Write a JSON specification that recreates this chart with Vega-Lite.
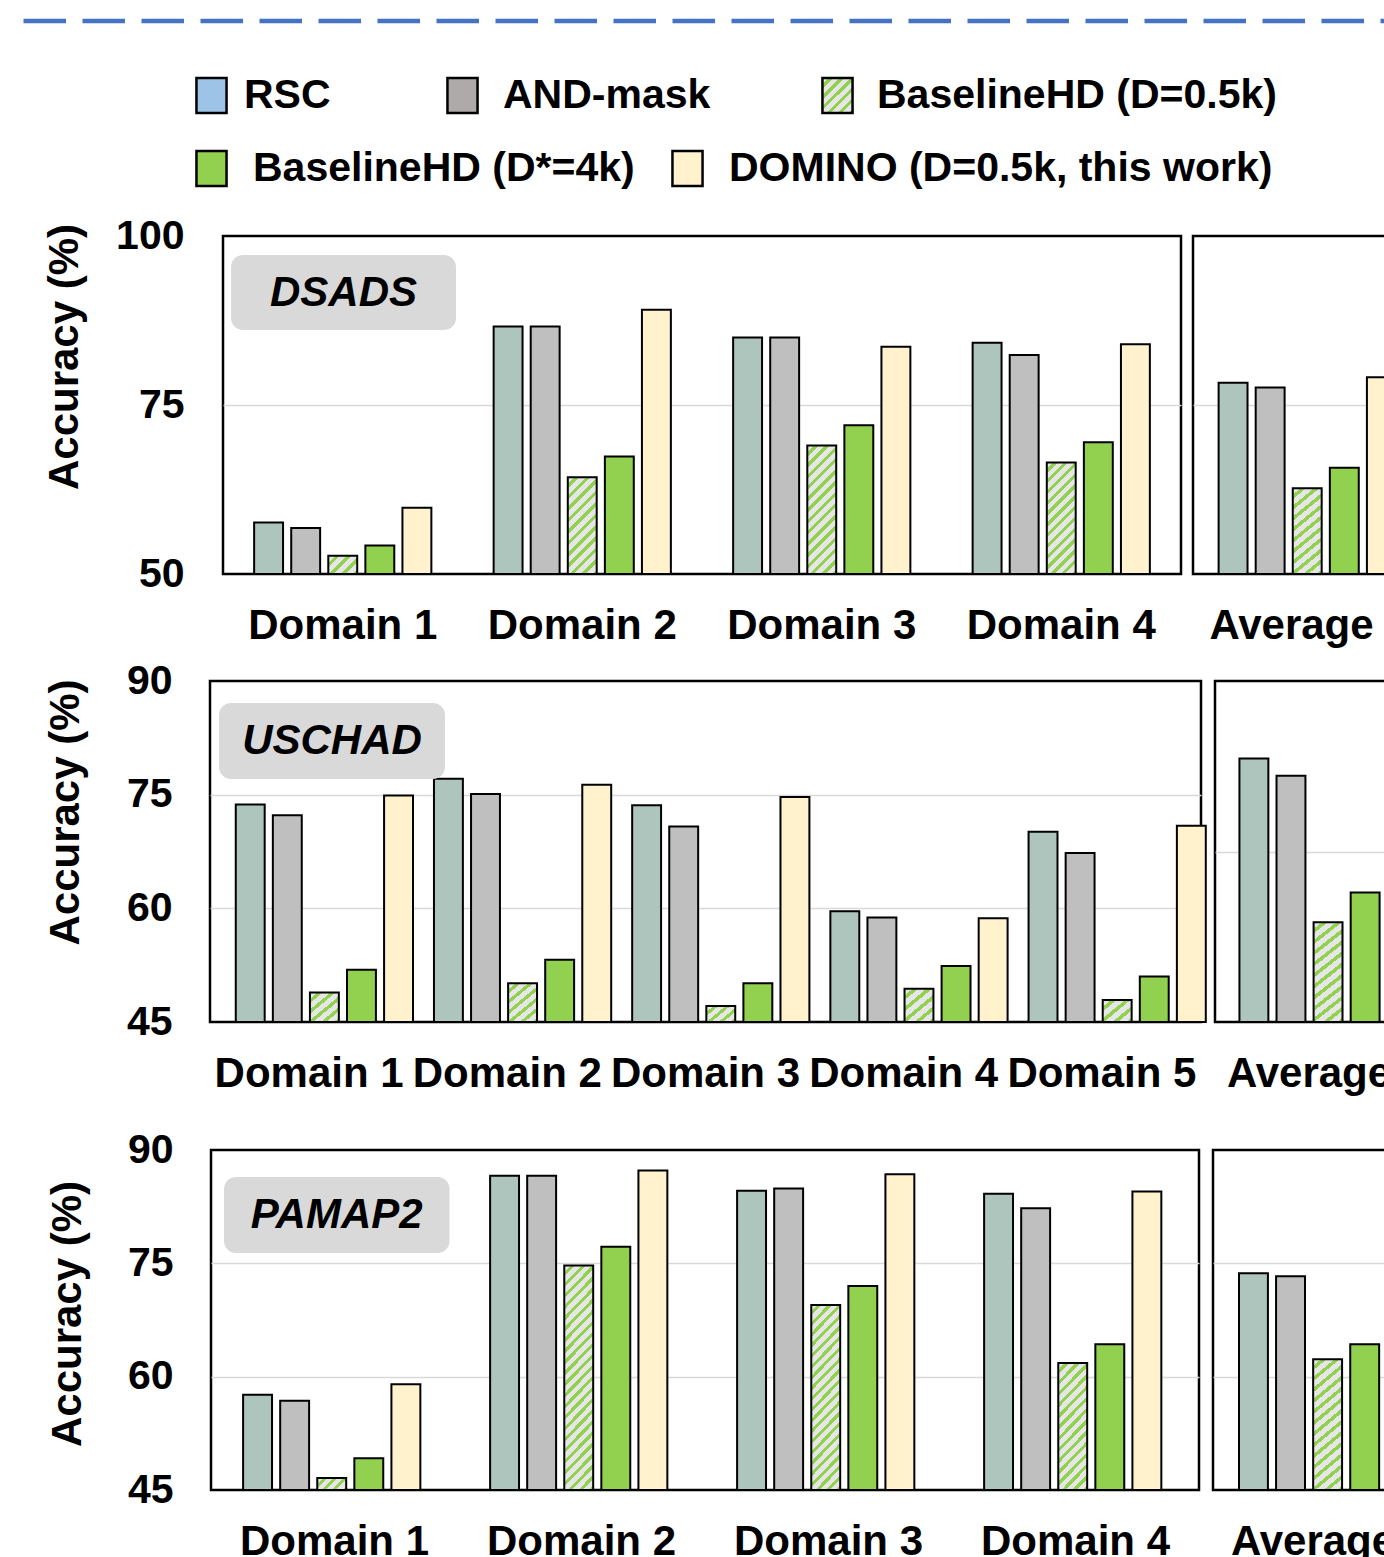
{
"$schema": "https://vega.github.io/schema/vega-lite/v6.json",
"padding": {"left": 20, "top": 18, "right": 0, "bottom": 0},
"config": {
 "font": "Liberation Sans",
 "view": {"stroke": "#000", "strokeWidth": 2.5},
 "axis": {"labelFontSize": 41, "labelFontWeight": "bold", "labelColor": "#000", "ticks": false, "domain": false, "titleFontSize": 42, "titleFontWeight": "bold", "titleColor": "#000", "gridColor": "#D9D9D9", "gridWidth": 1.5, "labelLimit": 400, "labelOverlap": false},
 "axisX": {"labelFontSize": 42, "labelPadding": 31, "labelAngle": 0, "title": null},
 "legend": {"orient": "none", "title": null, "direction": "horizontal", "symbolType": "M-0.86,-1H0.86V1H-0.86Z", "symbolSize": 1225, "symbolStrokeColor": "#000", "symbolStrokeWidth": 2.5, "symbolOpacity": 1, "labelFontSize": 41, "labelFontWeight": "bold", "labelColor": "#000", "labelLimit": 1000, "padding": 0}
},
"params": [
 {"name": "s4", "value": [{"offset":0,"color":"#e6e6e6"},{"offset":0.15,"color":"#e6e6e6"},{"offset":0.15,"color":"#92d050"},{"offset":0.25,"color":"#92d050"},{"offset":0.25,"color":"#e6e6e6"},{"offset":0.4,"color":"#e6e6e6"},{"offset":0.4,"color":"#92d050"},{"offset":0.5,"color":"#92d050"},{"offset":0.5,"color":"#e6e6e6"},{"offset":0.65,"color":"#e6e6e6"},{"offset":0.65,"color":"#92d050"},{"offset":0.75,"color":"#92d050"},{"offset":0.75,"color":"#e6e6e6"},{"offset":0.9,"color":"#e6e6e6"},{"offset":0.9,"color":"#92d050"},{"offset":1,"color":"#92d050"}]},
 {"name": "s5", "value": [{"offset":0,"color":"#e6e6e6"},{"offset":0.12,"color":"#e6e6e6"},{"offset":0.12,"color":"#92d050"},{"offset":0.2,"color":"#92d050"},{"offset":0.2,"color":"#e6e6e6"},{"offset":0.32,"color":"#e6e6e6"},{"offset":0.32,"color":"#92d050"},{"offset":0.4,"color":"#92d050"},{"offset":0.4,"color":"#e6e6e6"},{"offset":0.52,"color":"#e6e6e6"},{"offset":0.52,"color":"#92d050"},{"offset":0.6,"color":"#92d050"},{"offset":0.6,"color":"#e6e6e6"},{"offset":0.72,"color":"#e6e6e6"},{"offset":0.72,"color":"#92d050"},{"offset":0.8,"color":"#92d050"},{"offset":0.8,"color":"#e6e6e6"},{"offset":0.92,"color":"#e6e6e6"},{"offset":0.92,"color":"#92d050"},{"offset":1,"color":"#92d050"}]},
 {"name": "s6", "value": [{"offset":0,"color":"#e6e6e6"},{"offset":0.1,"color":"#e6e6e6"},{"offset":0.1,"color":"#92d050"},{"offset":0.1667,"color":"#92d050"},{"offset":0.1667,"color":"#e6e6e6"},{"offset":0.2667,"color":"#e6e6e6"},{"offset":0.2667,"color":"#92d050"},{"offset":0.3333,"color":"#92d050"},{"offset":0.3333,"color":"#e6e6e6"},{"offset":0.4333,"color":"#e6e6e6"},{"offset":0.4333,"color":"#92d050"},{"offset":0.5,"color":"#92d050"},{"offset":0.5,"color":"#e6e6e6"},{"offset":0.6,"color":"#e6e6e6"},{"offset":0.6,"color":"#92d050"},{"offset":0.6667,"color":"#92d050"},{"offset":0.6667,"color":"#e6e6e6"},{"offset":0.7667,"color":"#e6e6e6"},{"offset":0.7667,"color":"#92d050"},{"offset":0.8333,"color":"#92d050"},{"offset":0.8333,"color":"#e6e6e6"},{"offset":0.9333,"color":"#e6e6e6"},{"offset":0.9333,"color":"#92d050"},{"offset":1,"color":"#92d050"}]},
 {"name": "s10", "value": [{"offset":0,"color":"#e6e6e6"},{"offset":0.06,"color":"#e6e6e6"},{"offset":0.06,"color":"#92d050"},{"offset":0.1,"color":"#92d050"},{"offset":0.1,"color":"#e6e6e6"},{"offset":0.16,"color":"#e6e6e6"},{"offset":0.16,"color":"#92d050"},{"offset":0.2,"color":"#92d050"},{"offset":0.2,"color":"#e6e6e6"},{"offset":0.26,"color":"#e6e6e6"},{"offset":0.26,"color":"#92d050"},{"offset":0.3,"color":"#92d050"},{"offset":0.3,"color":"#e6e6e6"},{"offset":0.36,"color":"#e6e6e6"},{"offset":0.36,"color":"#92d050"},{"offset":0.4,"color":"#92d050"},{"offset":0.4,"color":"#e6e6e6"},{"offset":0.46,"color":"#e6e6e6"},{"offset":0.46,"color":"#92d050"},{"offset":0.5,"color":"#92d050"},{"offset":0.5,"color":"#e6e6e6"},{"offset":0.56,"color":"#e6e6e6"},{"offset":0.56,"color":"#92d050"},{"offset":0.6,"color":"#92d050"},{"offset":0.6,"color":"#e6e6e6"},{"offset":0.66,"color":"#e6e6e6"},{"offset":0.66,"color":"#92d050"},{"offset":0.7,"color":"#92d050"},{"offset":0.7,"color":"#e6e6e6"},{"offset":0.76,"color":"#e6e6e6"},{"offset":0.76,"color":"#92d050"},{"offset":0.8,"color":"#92d050"},{"offset":0.8,"color":"#e6e6e6"},{"offset":0.86,"color":"#e6e6e6"},{"offset":0.86,"color":"#92d050"},{"offset":0.9,"color":"#92d050"},{"offset":0.9,"color":"#e6e6e6"},{"offset":0.96,"color":"#e6e6e6"},{"offset":0.96,"color":"#92d050"},{"offset":1,"color":"#92d050"}]},
 {"name": "s11", "value": [{"offset":0,"color":"#e6e6e6"},{"offset":0.0545,"color":"#e6e6e6"},{"offset":0.0545,"color":"#92d050"},{"offset":0.0909,"color":"#92d050"},{"offset":0.0909,"color":"#e6e6e6"},{"offset":0.1455,"color":"#e6e6e6"},{"offset":0.1455,"color":"#92d050"},{"offset":0.1818,"color":"#92d050"},{"offset":0.1818,"color":"#e6e6e6"},{"offset":0.2364,"color":"#e6e6e6"},{"offset":0.2364,"color":"#92d050"},{"offset":0.2727,"color":"#92d050"},{"offset":0.2727,"color":"#e6e6e6"},{"offset":0.3273,"color":"#e6e6e6"},{"offset":0.3273,"color":"#92d050"},{"offset":0.3636,"color":"#92d050"},{"offset":0.3636,"color":"#e6e6e6"},{"offset":0.4182,"color":"#e6e6e6"},{"offset":0.4182,"color":"#92d050"},{"offset":0.4545,"color":"#92d050"},{"offset":0.4545,"color":"#e6e6e6"},{"offset":0.5091,"color":"#e6e6e6"},{"offset":0.5091,"color":"#92d050"},{"offset":0.5455,"color":"#92d050"},{"offset":0.5455,"color":"#e6e6e6"},{"offset":0.6,"color":"#e6e6e6"},{"offset":0.6,"color":"#92d050"},{"offset":0.6364,"color":"#92d050"},{"offset":0.6364,"color":"#e6e6e6"},{"offset":0.6909,"color":"#e6e6e6"},{"offset":0.6909,"color":"#92d050"},{"offset":0.7273,"color":"#92d050"},{"offset":0.7273,"color":"#e6e6e6"},{"offset":0.7818,"color":"#e6e6e6"},{"offset":0.7818,"color":"#92d050"},{"offset":0.8182,"color":"#92d050"},{"offset":0.8182,"color":"#e6e6e6"},{"offset":0.8727,"color":"#e6e6e6"},{"offset":0.8727,"color":"#92d050"},{"offset":0.9091,"color":"#92d050"},{"offset":0.9091,"color":"#e6e6e6"},{"offset":0.9636,"color":"#e6e6e6"},{"offset":0.9636,"color":"#92d050"},{"offset":1,"color":"#92d050"}]},
 {"name": "s13", "value": [{"offset":0,"color":"#e6e6e6"},{"offset":0.0462,"color":"#e6e6e6"},{"offset":0.0462,"color":"#92d050"},{"offset":0.0769,"color":"#92d050"},{"offset":0.0769,"color":"#e6e6e6"},{"offset":0.1231,"color":"#e6e6e6"},{"offset":0.1231,"color":"#92d050"},{"offset":0.1538,"color":"#92d050"},{"offset":0.1538,"color":"#e6e6e6"},{"offset":0.2,"color":"#e6e6e6"},{"offset":0.2,"color":"#92d050"},{"offset":0.2308,"color":"#92d050"},{"offset":0.2308,"color":"#e6e6e6"},{"offset":0.2769,"color":"#e6e6e6"},{"offset":0.2769,"color":"#92d050"},{"offset":0.3077,"color":"#92d050"},{"offset":0.3077,"color":"#e6e6e6"},{"offset":0.3538,"color":"#e6e6e6"},{"offset":0.3538,"color":"#92d050"},{"offset":0.3846,"color":"#92d050"},{"offset":0.3846,"color":"#e6e6e6"},{"offset":0.4308,"color":"#e6e6e6"},{"offset":0.4308,"color":"#92d050"},{"offset":0.4615,"color":"#92d050"},{"offset":0.4615,"color":"#e6e6e6"},{"offset":0.5077,"color":"#e6e6e6"},{"offset":0.5077,"color":"#92d050"},{"offset":0.5385,"color":"#92d050"},{"offset":0.5385,"color":"#e6e6e6"},{"offset":0.5846,"color":"#e6e6e6"},{"offset":0.5846,"color":"#92d050"},{"offset":0.6154,"color":"#92d050"},{"offset":0.6154,"color":"#e6e6e6"},{"offset":0.6615,"color":"#e6e6e6"},{"offset":0.6615,"color":"#92d050"},{"offset":0.6923,"color":"#92d050"},{"offset":0.6923,"color":"#e6e6e6"},{"offset":0.7385,"color":"#e6e6e6"},{"offset":0.7385,"color":"#92d050"},{"offset":0.7692,"color":"#92d050"},{"offset":0.7692,"color":"#e6e6e6"},{"offset":0.8154,"color":"#e6e6e6"},{"offset":0.8154,"color":"#92d050"},{"offset":0.8462,"color":"#92d050"},{"offset":0.8462,"color":"#e6e6e6"},{"offset":0.8923,"color":"#e6e6e6"},{"offset":0.8923,"color":"#92d050"},{"offset":0.9231,"color":"#92d050"},{"offset":0.9231,"color":"#e6e6e6"},{"offset":0.9692,"color":"#e6e6e6"},{"offset":0.9692,"color":"#92d050"},{"offset":1,"color":"#92d050"}]},
 {"name": "s14", "value": [{"offset":0,"color":"#e6e6e6"},{"offset":0.0429,"color":"#e6e6e6"},{"offset":0.0429,"color":"#92d050"},{"offset":0.0714,"color":"#92d050"},{"offset":0.0714,"color":"#e6e6e6"},{"offset":0.1143,"color":"#e6e6e6"},{"offset":0.1143,"color":"#92d050"},{"offset":0.1429,"color":"#92d050"},{"offset":0.1429,"color":"#e6e6e6"},{"offset":0.1857,"color":"#e6e6e6"},{"offset":0.1857,"color":"#92d050"},{"offset":0.2143,"color":"#92d050"},{"offset":0.2143,"color":"#e6e6e6"},{"offset":0.2571,"color":"#e6e6e6"},{"offset":0.2571,"color":"#92d050"},{"offset":0.2857,"color":"#92d050"},{"offset":0.2857,"color":"#e6e6e6"},{"offset":0.3286,"color":"#e6e6e6"},{"offset":0.3286,"color":"#92d050"},{"offset":0.3571,"color":"#92d050"},{"offset":0.3571,"color":"#e6e6e6"},{"offset":0.4,"color":"#e6e6e6"},{"offset":0.4,"color":"#92d050"},{"offset":0.4286,"color":"#92d050"},{"offset":0.4286,"color":"#e6e6e6"},{"offset":0.4714,"color":"#e6e6e6"},{"offset":0.4714,"color":"#92d050"},{"offset":0.5,"color":"#92d050"},{"offset":0.5,"color":"#e6e6e6"},{"offset":0.5429,"color":"#e6e6e6"},{"offset":0.5429,"color":"#92d050"},{"offset":0.5714,"color":"#92d050"},{"offset":0.5714,"color":"#e6e6e6"},{"offset":0.6143,"color":"#e6e6e6"},{"offset":0.6143,"color":"#92d050"},{"offset":0.6429,"color":"#92d050"},{"offset":0.6429,"color":"#e6e6e6"},{"offset":0.6857,"color":"#e6e6e6"},{"offset":0.6857,"color":"#92d050"},{"offset":0.7143,"color":"#92d050"},{"offset":0.7143,"color":"#e6e6e6"},{"offset":0.7571,"color":"#e6e6e6"},{"offset":0.7571,"color":"#92d050"},{"offset":0.7857,"color":"#92d050"},{"offset":0.7857,"color":"#e6e6e6"},{"offset":0.8286,"color":"#e6e6e6"},{"offset":0.8286,"color":"#92d050"},{"offset":0.8571,"color":"#92d050"},{"offset":0.8571,"color":"#e6e6e6"},{"offset":0.9,"color":"#e6e6e6"},{"offset":0.9,"color":"#92d050"},{"offset":0.9286,"color":"#92d050"},{"offset":0.9286,"color":"#e6e6e6"},{"offset":0.9714,"color":"#e6e6e6"},{"offset":0.9714,"color":"#92d050"},{"offset":1,"color":"#92d050"}]},
 {"name": "s20", "value": [{"offset":0,"color":"#e6e6e6"},{"offset":0.03,"color":"#e6e6e6"},{"offset":0.03,"color":"#92d050"},{"offset":0.05,"color":"#92d050"},{"offset":0.05,"color":"#e6e6e6"},{"offset":0.08,"color":"#e6e6e6"},{"offset":0.08,"color":"#92d050"},{"offset":0.1,"color":"#92d050"},{"offset":0.1,"color":"#e6e6e6"},{"offset":0.13,"color":"#e6e6e6"},{"offset":0.13,"color":"#92d050"},{"offset":0.15,"color":"#92d050"},{"offset":0.15,"color":"#e6e6e6"},{"offset":0.18,"color":"#e6e6e6"},{"offset":0.18,"color":"#92d050"},{"offset":0.2,"color":"#92d050"},{"offset":0.2,"color":"#e6e6e6"},{"offset":0.23,"color":"#e6e6e6"},{"offset":0.23,"color":"#92d050"},{"offset":0.25,"color":"#92d050"},{"offset":0.25,"color":"#e6e6e6"},{"offset":0.28,"color":"#e6e6e6"},{"offset":0.28,"color":"#92d050"},{"offset":0.3,"color":"#92d050"},{"offset":0.3,"color":"#e6e6e6"},{"offset":0.33,"color":"#e6e6e6"},{"offset":0.33,"color":"#92d050"},{"offset":0.35,"color":"#92d050"},{"offset":0.35,"color":"#e6e6e6"},{"offset":0.38,"color":"#e6e6e6"},{"offset":0.38,"color":"#92d050"},{"offset":0.4,"color":"#92d050"},{"offset":0.4,"color":"#e6e6e6"},{"offset":0.43,"color":"#e6e6e6"},{"offset":0.43,"color":"#92d050"},{"offset":0.45,"color":"#92d050"},{"offset":0.45,"color":"#e6e6e6"},{"offset":0.48,"color":"#e6e6e6"},{"offset":0.48,"color":"#92d050"},{"offset":0.5,"color":"#92d050"},{"offset":0.5,"color":"#e6e6e6"},{"offset":0.53,"color":"#e6e6e6"},{"offset":0.53,"color":"#92d050"},{"offset":0.55,"color":"#92d050"},{"offset":0.55,"color":"#e6e6e6"},{"offset":0.58,"color":"#e6e6e6"},{"offset":0.58,"color":"#92d050"},{"offset":0.6,"color":"#92d050"},{"offset":0.6,"color":"#e6e6e6"},{"offset":0.63,"color":"#e6e6e6"},{"offset":0.63,"color":"#92d050"},{"offset":0.65,"color":"#92d050"},{"offset":0.65,"color":"#e6e6e6"},{"offset":0.68,"color":"#e6e6e6"},{"offset":0.68,"color":"#92d050"},{"offset":0.7,"color":"#92d050"},{"offset":0.7,"color":"#e6e6e6"},{"offset":0.73,"color":"#e6e6e6"},{"offset":0.73,"color":"#92d050"},{"offset":0.75,"color":"#92d050"},{"offset":0.75,"color":"#e6e6e6"},{"offset":0.78,"color":"#e6e6e6"},{"offset":0.78,"color":"#92d050"},{"offset":0.8,"color":"#92d050"},{"offset":0.8,"color":"#e6e6e6"},{"offset":0.83,"color":"#e6e6e6"},{"offset":0.83,"color":"#92d050"},{"offset":0.85,"color":"#92d050"},{"offset":0.85,"color":"#e6e6e6"},{"offset":0.88,"color":"#e6e6e6"},{"offset":0.88,"color":"#92d050"},{"offset":0.9,"color":"#92d050"},{"offset":0.9,"color":"#e6e6e6"},{"offset":0.93,"color":"#e6e6e6"},{"offset":0.93,"color":"#92d050"},{"offset":0.95,"color":"#92d050"},{"offset":0.95,"color":"#e6e6e6"},{"offset":0.98,"color":"#e6e6e6"},{"offset":0.98,"color":"#92d050"},{"offset":1,"color":"#92d050"}]},
 {"name": "s23", "value": [{"offset":0,"color":"#e6e6e6"},{"offset":0.0261,"color":"#e6e6e6"},{"offset":0.0261,"color":"#92d050"},{"offset":0.0435,"color":"#92d050"},{"offset":0.0435,"color":"#e6e6e6"},{"offset":0.0696,"color":"#e6e6e6"},{"offset":0.0696,"color":"#92d050"},{"offset":0.087,"color":"#92d050"},{"offset":0.087,"color":"#e6e6e6"},{"offset":0.113,"color":"#e6e6e6"},{"offset":0.113,"color":"#92d050"},{"offset":0.1304,"color":"#92d050"},{"offset":0.1304,"color":"#e6e6e6"},{"offset":0.1565,"color":"#e6e6e6"},{"offset":0.1565,"color":"#92d050"},{"offset":0.1739,"color":"#92d050"},{"offset":0.1739,"color":"#e6e6e6"},{"offset":0.2,"color":"#e6e6e6"},{"offset":0.2,"color":"#92d050"},{"offset":0.2174,"color":"#92d050"},{"offset":0.2174,"color":"#e6e6e6"},{"offset":0.2435,"color":"#e6e6e6"},{"offset":0.2435,"color":"#92d050"},{"offset":0.2609,"color":"#92d050"},{"offset":0.2609,"color":"#e6e6e6"},{"offset":0.287,"color":"#e6e6e6"},{"offset":0.287,"color":"#92d050"},{"offset":0.3043,"color":"#92d050"},{"offset":0.3043,"color":"#e6e6e6"},{"offset":0.3304,"color":"#e6e6e6"},{"offset":0.3304,"color":"#92d050"},{"offset":0.3478,"color":"#92d050"},{"offset":0.3478,"color":"#e6e6e6"},{"offset":0.3739,"color":"#e6e6e6"},{"offset":0.3739,"color":"#92d050"},{"offset":0.3913,"color":"#92d050"},{"offset":0.3913,"color":"#e6e6e6"},{"offset":0.4174,"color":"#e6e6e6"},{"offset":0.4174,"color":"#92d050"},{"offset":0.4348,"color":"#92d050"},{"offset":0.4348,"color":"#e6e6e6"},{"offset":0.4609,"color":"#e6e6e6"},{"offset":0.4609,"color":"#92d050"},{"offset":0.4783,"color":"#92d050"},{"offset":0.4783,"color":"#e6e6e6"},{"offset":0.5043,"color":"#e6e6e6"},{"offset":0.5043,"color":"#92d050"},{"offset":0.5217,"color":"#92d050"},{"offset":0.5217,"color":"#e6e6e6"},{"offset":0.5478,"color":"#e6e6e6"},{"offset":0.5478,"color":"#92d050"},{"offset":0.5652,"color":"#92d050"},{"offset":0.5652,"color":"#e6e6e6"},{"offset":0.5913,"color":"#e6e6e6"},{"offset":0.5913,"color":"#92d050"},{"offset":0.6087,"color":"#92d050"},{"offset":0.6087,"color":"#e6e6e6"},{"offset":0.6348,"color":"#e6e6e6"},{"offset":0.6348,"color":"#92d050"},{"offset":0.6522,"color":"#92d050"},{"offset":0.6522,"color":"#e6e6e6"},{"offset":0.6783,"color":"#e6e6e6"},{"offset":0.6783,"color":"#92d050"},{"offset":0.6957,"color":"#92d050"},{"offset":0.6957,"color":"#e6e6e6"},{"offset":0.7217,"color":"#e6e6e6"},{"offset":0.7217,"color":"#92d050"},{"offset":0.7391,"color":"#92d050"},{"offset":0.7391,"color":"#e6e6e6"},{"offset":0.7652,"color":"#e6e6e6"},{"offset":0.7652,"color":"#92d050"},{"offset":0.7826,"color":"#92d050"},{"offset":0.7826,"color":"#e6e6e6"},{"offset":0.8087,"color":"#e6e6e6"},{"offset":0.8087,"color":"#92d050"},{"offset":0.8261,"color":"#92d050"},{"offset":0.8261,"color":"#e6e6e6"},{"offset":0.8522,"color":"#e6e6e6"},{"offset":0.8522,"color":"#92d050"},{"offset":0.8696,"color":"#92d050"},{"offset":0.8696,"color":"#e6e6e6"},{"offset":0.8957,"color":"#e6e6e6"},{"offset":0.8957,"color":"#92d050"},{"offset":0.913,"color":"#92d050"},{"offset":0.913,"color":"#e6e6e6"},{"offset":0.9391,"color":"#e6e6e6"},{"offset":0.9391,"color":"#92d050"},{"offset":0.9565,"color":"#92d050"},{"offset":0.9565,"color":"#e6e6e6"},{"offset":0.9826,"color":"#e6e6e6"},{"offset":0.9826,"color":"#92d050"},{"offset":1,"color":"#92d050"}]}
],
"datasets": {
 "acc": [
  {"ds":"DSADS","domain":"Domain 1","method":"RSC","acc":57.6},
  {"ds":"DSADS","domain":"Domain 1","method":"AND-mask","acc":56.8},
  {"ds":"DSADS","domain":"Domain 1","method":"BaselineHD (D=0.5k)","acc":52.7},
  {"ds":"DSADS","domain":"Domain 1","method":"BaselineHD (D*=4k)","acc":54.2},
  {"ds":"DSADS","domain":"Domain 1","method":"DOMINO (D=0.5k, this work)","acc":59.8},
  {"ds":"DSADS","domain":"Domain 2","method":"RSC","acc":86.6},
  {"ds":"DSADS","domain":"Domain 2","method":"AND-mask","acc":86.6},
  {"ds":"DSADS","domain":"Domain 2","method":"BaselineHD (D=0.5k)","acc":64.3},
  {"ds":"DSADS","domain":"Domain 2","method":"BaselineHD (D*=4k)","acc":67.4},
  {"ds":"DSADS","domain":"Domain 2","method":"DOMINO (D=0.5k, this work)","acc":89.1},
  {"ds":"DSADS","domain":"Domain 3","method":"RSC","acc":85.0},
  {"ds":"DSADS","domain":"Domain 3","method":"AND-mask","acc":85.0},
  {"ds":"DSADS","domain":"Domain 3","method":"BaselineHD (D=0.5k)","acc":69.0},
  {"ds":"DSADS","domain":"Domain 3","method":"BaselineHD (D*=4k)","acc":72.0},
  {"ds":"DSADS","domain":"Domain 3","method":"DOMINO (D=0.5k, this work)","acc":83.6},
  {"ds":"DSADS","domain":"Domain 4","method":"RSC","acc":84.2},
  {"ds":"DSADS","domain":"Domain 4","method":"AND-mask","acc":82.4},
  {"ds":"DSADS","domain":"Domain 4","method":"BaselineHD (D=0.5k)","acc":66.5},
  {"ds":"DSADS","domain":"Domain 4","method":"BaselineHD (D*=4k)","acc":69.5},
  {"ds":"DSADS","domain":"Domain 4","method":"DOMINO (D=0.5k, this work)","acc":84.0},
  {"ds":"DSADS","domain":"Average","method":"RSC","acc":78.3},
  {"ds":"DSADS","domain":"Average","method":"AND-mask","acc":77.6},
  {"ds":"DSADS","domain":"Average","method":"BaselineHD (D=0.5k)","acc":62.7},
  {"ds":"DSADS","domain":"Average","method":"BaselineHD (D*=4k)","acc":65.7},
  {"ds":"DSADS","domain":"Average","method":"DOMINO (D=0.5k, this work)","acc":79.1},
  {"ds":"USCHAD","domain":"Domain 1","method":"RSC","acc":73.7},
  {"ds":"USCHAD","domain":"Domain 1","method":"AND-mask","acc":72.3},
  {"ds":"USCHAD","domain":"Domain 1","method":"BaselineHD (D=0.5k)","acc":48.9},
  {"ds":"USCHAD","domain":"Domain 1","method":"BaselineHD (D*=4k)","acc":51.9},
  {"ds":"USCHAD","domain":"Domain 1","method":"DOMINO (D=0.5k, this work)","acc":74.9},
  {"ds":"USCHAD","domain":"Domain 2","method":"RSC","acc":77.1},
  {"ds":"USCHAD","domain":"Domain 2","method":"AND-mask","acc":75.1},
  {"ds":"USCHAD","domain":"Domain 2","method":"BaselineHD (D=0.5k)","acc":50.1},
  {"ds":"USCHAD","domain":"Domain 2","method":"BaselineHD (D*=4k)","acc":53.2},
  {"ds":"USCHAD","domain":"Domain 2","method":"DOMINO (D=0.5k, this work)","acc":76.3},
  {"ds":"USCHAD","domain":"Domain 3","method":"RSC","acc":73.6},
  {"ds":"USCHAD","domain":"Domain 3","method":"AND-mask","acc":70.8},
  {"ds":"USCHAD","domain":"Domain 3","method":"BaselineHD (D=0.5k)","acc":47.1},
  {"ds":"USCHAD","domain":"Domain 3","method":"BaselineHD (D*=4k)","acc":50.1},
  {"ds":"USCHAD","domain":"Domain 3","method":"DOMINO (D=0.5k, this work)","acc":74.7},
  {"ds":"USCHAD","domain":"Domain 4","method":"RSC","acc":59.6},
  {"ds":"USCHAD","domain":"Domain 4","method":"AND-mask","acc":58.8},
  {"ds":"USCHAD","domain":"Domain 4","method":"BaselineHD (D=0.5k)","acc":49.4},
  {"ds":"USCHAD","domain":"Domain 4","method":"BaselineHD (D*=4k)","acc":52.4},
  {"ds":"USCHAD","domain":"Domain 4","method":"DOMINO (D=0.5k, this work)","acc":58.7},
  {"ds":"USCHAD","domain":"Domain 5","method":"RSC","acc":70.1},
  {"ds":"USCHAD","domain":"Domain 5","method":"AND-mask","acc":67.3},
  {"ds":"USCHAD","domain":"Domain 5","method":"BaselineHD (D=0.5k)","acc":47.9},
  {"ds":"USCHAD","domain":"Domain 5","method":"BaselineHD (D*=4k)","acc":51.0},
  {"ds":"USCHAD","domain":"Domain 5","method":"DOMINO (D=0.5k, this work)","acc":70.9},
  {"ds":"USCHAD","domain":"Average","method":"RSC","acc":70.9},
  {"ds":"USCHAD","domain":"Average","method":"AND-mask","acc":68.9},
  {"ds":"USCHAD","domain":"Average","method":"BaselineHD (D=0.5k)","acc":51.7},
  {"ds":"USCHAD","domain":"Average","method":"BaselineHD (D*=4k)","acc":55.2},
  {"ds":"USCHAD","domain":"Average","method":"DOMINO (D=0.5k, this work)","acc":70.7},
  {"ds":"PAMAP2","domain":"Domain 1","method":"RSC","acc":57.6},
  {"ds":"PAMAP2","domain":"Domain 1","method":"AND-mask","acc":56.8},
  {"ds":"PAMAP2","domain":"Domain 1","method":"BaselineHD (D=0.5k)","acc":46.6},
  {"ds":"PAMAP2","domain":"Domain 1","method":"BaselineHD (D*=4k)","acc":49.2},
  {"ds":"PAMAP2","domain":"Domain 1","method":"DOMINO (D=0.5k, this work)","acc":59.0},
  {"ds":"PAMAP2","domain":"Domain 2","method":"RSC","acc":86.6},
  {"ds":"PAMAP2","domain":"Domain 2","method":"AND-mask","acc":86.6},
  {"ds":"PAMAP2","domain":"Domain 2","method":"BaselineHD (D=0.5k)","acc":74.7},
  {"ds":"PAMAP2","domain":"Domain 2","method":"BaselineHD (D*=4k)","acc":77.2},
  {"ds":"PAMAP2","domain":"Domain 2","method":"DOMINO (D=0.5k, this work)","acc":87.3},
  {"ds":"PAMAP2","domain":"Domain 3","method":"RSC","acc":84.6},
  {"ds":"PAMAP2","domain":"Domain 3","method":"AND-mask","acc":84.9},
  {"ds":"PAMAP2","domain":"Domain 3","method":"BaselineHD (D=0.5k)","acc":69.5},
  {"ds":"PAMAP2","domain":"Domain 3","method":"BaselineHD (D*=4k)","acc":72.0},
  {"ds":"PAMAP2","domain":"Domain 3","method":"DOMINO (D=0.5k, this work)","acc":86.8},
  {"ds":"PAMAP2","domain":"Domain 4","method":"RSC","acc":84.2},
  {"ds":"PAMAP2","domain":"Domain 4","method":"AND-mask","acc":82.3},
  {"ds":"PAMAP2","domain":"Domain 4","method":"BaselineHD (D=0.5k)","acc":61.8},
  {"ds":"PAMAP2","domain":"Domain 4","method":"BaselineHD (D*=4k)","acc":64.3},
  {"ds":"PAMAP2","domain":"Domain 4","method":"DOMINO (D=0.5k, this work)","acc":84.5},
  {"ds":"PAMAP2","domain":"Average","method":"RSC","acc":73.7},
  {"ds":"PAMAP2","domain":"Average","method":"AND-mask","acc":73.3},
  {"ds":"PAMAP2","domain":"Average","method":"BaselineHD (D=0.5k)","acc":62.3},
  {"ds":"PAMAP2","domain":"Average","method":"BaselineHD (D*=4k)","acc":64.3},
  {"ds":"PAMAP2","domain":"Average","method":"DOMINO (D=0.5k, this work)","acc":74.5}
 ]
},
"columns": 1,
"align": "none",
"spacing": 22,
"concat": [
 {"width": 1400, "height": 1, "view": {"stroke": null},
  "layer": [
   {"data": {"values": [{"k": 1}]},
    "mark": {"type": "rule", "stroke": "#4472C4", "strokeWidth": 4.5, "strokeDash": [42.5, 16.5]},
    "encoding": {"y": {"datum": 1, "type": "quantitative", "scale": {"domain": [0, 1]}, "axis": null}}},
   {"data": {"name": "acc"}, "transform": [{"filter": "datum.ds === 'DSADS' && datum.domain === 'Average'"}],
    "mark": {"type": "square", "size": 0},
    "encoding": {"fill": {"field": "method", "type": "nominal",
     "scale": {"domain": ["RSC", "AND-mask", "BaselineHD (D=0.5k)", "BaselineHD (D*=4k)", "DOMINO (D=0.5k, this work)"], "range": ["#9DC3E6", "#AEAAAA", {"expr": "{gradient:'linear',x1:0,y1:0,x2:0.9194,y2:1.0693,stops:s6}"}, "#92D050", "#FFF2CC"]},
     "legend": {"legendX": 168, "legendY": 54, "values": ["RSC"], "labelOffset": 12}}}},
   {"data": {"name": "acc"}, "transform": [{"filter": "datum.ds === 'DSADS' && datum.domain === 'Average'"}],
    "mark": {"type": "square", "size": 0},
    "encoding": {"fill": {"field": "method", "type": "nominal",
     "scale": {"domain": ["RSC", "AND-mask", "BaselineHD (D=0.5k)", "BaselineHD (D*=4k)", "DOMINO (D=0.5k, this work)"], "range": ["#9DC3E6", "#AEAAAA", {"expr": "{gradient:'linear',x1:0,y1:0,x2:0.9194,y2:1.0693,stops:s6}"}, "#92D050", "#FFF2CC"]},
     "legend": {"legendX": 419, "legendY": 54, "values": ["AND-mask"], "labelOffset": 20}}}},
   {"data": {"name": "acc"}, "transform": [{"filter": "datum.ds === 'DSADS' && datum.domain === 'Average'"}],
    "mark": {"type": "square", "size": 0},
    "encoding": {"fill": {"field": "method", "type": "nominal",
     "scale": {"domain": ["RSC", "AND-mask", "BaselineHD (D=0.5k)", "BaselineHD (D*=4k)", "DOMINO (D=0.5k, this work)"], "range": ["#9DC3E6", "#AEAAAA", {"expr": "{gradient:'linear',x1:0,y1:0,x2:0.9194,y2:1.0693,stops:s6}"}, "#92D050", "#FFF2CC"]},
     "legend": {"legendX": 794, "legendY": 54, "values": ["BaselineHD (D=0.5k)"], "labelOffset": 19}}}},
   {"data": {"name": "acc"}, "transform": [{"filter": "datum.ds === 'DSADS' && datum.domain === 'Average'"}],
    "mark": {"type": "square", "size": 0},
    "encoding": {"fill": {"field": "method", "type": "nominal",
     "scale": {"domain": ["RSC", "AND-mask", "BaselineHD (D=0.5k)", "BaselineHD (D*=4k)", "DOMINO (D=0.5k, this work)"], "range": ["#9DC3E6", "#AEAAAA", {"expr": "{gradient:'linear',x1:0,y1:0,x2:0.9194,y2:1.0693,stops:s6}"}, "#92D050", "#FFF2CC"]},
     "legend": {"legendX": 168, "legendY": 127, "values": ["BaselineHD (D*=4k)"], "labelOffset": 21}}}},
   {"data": {"name": "acc"}, "transform": [{"filter": "datum.ds === 'DSADS' && datum.domain === 'Average'"}],
    "mark": {"type": "square", "size": 0},
    "encoding": {"fill": {"field": "method", "type": "nominal",
     "scale": {"domain": ["RSC", "AND-mask", "BaselineHD (D=0.5k)", "BaselineHD (D*=4k)", "DOMINO (D=0.5k, this work)"], "range": ["#9DC3E6", "#AEAAAA", {"expr": "{gradient:'linear',x1:0,y1:0,x2:0.9194,y2:1.0693,stops:s6}"}, "#92D050", "#FFF2CC"]},
     "legend": {"legendX": 644, "legendY": 127, "values": ["DOMINO (D=0.5k, this work)"], "labelOffset": 21}}}}
  ],
  "resolve": {"legend": {"fill": "independent"}}},
 {"columns": 1, "align": "none", "spacing": 31,
  "concat": [
   {"columns": 1, "align": "none", "spacing": 10,
    "concat": [
     {"spacing": 8, "hconcat": [
      {"width": 11, "height": 10, "data": {"values": [{"k": 1}]}, "mark": {"type": "point", "opacity": 0}, "encoding": {}, "view": {"stroke": null}},
      {"width": 958, "height": 338,
       "layer": [
        {"data": {"name": "acc"}, "transform": [{"filter": "datum.ds === 'DSADS' && datum.domain !== 'Average'"}],
         "mark": {"type": "bar", "stroke": "#000", "strokeWidth": 2},
         "encoding": {
          "x": {"field": "domain", "type": "nominal", "sort": ["Domain 1", "Domain 2", "Domain 3", "Domain 4"], "scale": {"paddingInner": 0.26, "paddingOuter": 0.13}, "axis": {}},
          "xOffset": {"field": "method", "type": "nominal", "sort": ["RSC", "AND-mask", "BaselineHD (D=0.5k)", "BaselineHD (D*=4k)", "DOMINO (D=0.5k, this work)"], "scale": {"paddingInner": 0.22, "paddingOuter": 0}},
          "y": {"field": "acc", "type": "quantitative", "scale": {"domain": [50, 100], "zero": false, "nice": false}, "axis": {"values": [50, 75, 100], "title": "Accuracy (%)", "labelPadding": 39, "titlePadding": 29, "titleY": 120.5, "grid": true, "gridColor": {"condition": {"test": "datum.value > 50 && datum.value < 100", "value": "#D9D9D9"}, "value": null}}},
          "y2": {"datum": 50},
          "fill": {"field": "method", "type": "nominal",
           "scale": {"domain": ["RSC", "AND-mask", "BaselineHD (D=0.5k)", "BaselineHD (D*=4k)", "DOMINO (D=0.5k, this work)"], "range": ["#9DC3E6", "#AEAAAA", {"expr": "{gradient:'linear',x1:0,y1:0,x2:0.9194,y2:1.0693,stops:s6}"}, "#92D050", "#FFF2CC"]},
           "legend": null,
           "condition": [
            {"test": "datum.method === 'RSC'", "value": "#ADC5BD"},
            {"test": "datum.method === 'AND-mask'", "value": "#BFBFBF"},
            {"test": "datum.method === 'BaselineHD (D=0.5k)' && datum.domain === 'Domain 1'", "value": {"expr": "{gradient:'linear',x1:0,y1:0,x2:1.166,y2:0.738,stops:s4}"}},
            {"test": "datum.method === 'BaselineHD (D=0.5k)' && datum.domain === 'Domain 2'", "value": {"expr": "{gradient:'linear',x1:0,y1:0,x2:0.3566,y2:1.1926,stops:s11}"}},
            {"test": "datum.method === 'BaselineHD (D=0.5k)' && datum.domain === 'Domain 3'", "value": {"expr": "{gradient:'linear',x1:0,y1:0,x2:0.2627,y2:1.1664,stops:s14}"}},
            {"test": "datum.method === 'BaselineHD (D=0.5k)' && datum.domain === 'Domain 4'", "value": {"expr": "{gradient:'linear',x1:0,y1:0,x2:0.3061,y2:1.18,stops:s13}"}}
           ]}
         }},
        {"data": {"values": [{"ds": "DSADS"}]}, "mark": {"type": "rect", "fill": "#D9D9D9", "cornerRadius": 12},
         "encoding": {"x": {"datum": 0.0084, "type": "quantitative", "scale": {"domain": [0, 1]}, "axis": null}, "x2": {"datum": 0.2432}, "y": {"datum": 97.19, "type": "quantitative"}, "y2": {"datum": 86.09}}},
        {"data": {"values": [{"ds": "DSADS"}]}, "mark": {"type": "text", "fontSize": 42, "fontWeight": "bold", "fontStyle": "italic", "align": "center", "baseline": "middle", "fill": "#000"},
         "encoding": {"x": {"datum": 0.1258, "type": "quantitative", "scale": {"domain": [0, 1]}, "axis": null}, "y": {"datum": 91.64, "type": "quantitative"}, "text": {"field": "ds"}}}
       ],
       "resolve": {"scale": {"x": "independent"}}},
      {"width": 197, "height": 338, "data": {"name": "acc"}, "transform": [{"filter": "datum.ds === 'DSADS' && datum.domain === 'Average'"}],
       "mark": {"type": "bar", "stroke": "#000", "strokeWidth": 2},
       "encoding": {
        "x": {"field": "domain", "type": "nominal", "scale": {"paddingInner": 0.26, "paddingOuter": 0.13}, "axis": {}},
        "xOffset": {"field": "method", "type": "nominal", "sort": ["RSC", "AND-mask", "BaselineHD (D=0.5k)", "BaselineHD (D*=4k)", "DOMINO (D=0.5k, this work)"], "scale": {"paddingInner": 0.22, "paddingOuter": 0}},
        "y": {"field": "acc", "type": "quantitative", "scale": {"domain": [50, 100], "zero": false, "nice": false}, "axis": {"values": [50, 75, 100], "title": null, "labels": false, "grid": true, "gridColor": {"condition": {"test": "datum.value > 50 && datum.value < 100", "value": "#D9D9D9"}, "value": null}}},
        "y2": {"datum": 50},
        "fill": {"field": "method", "type": "nominal",
         "scale": {"domain": ["RSC", "AND-mask", "BaselineHD (D=0.5k)", "BaselineHD (D*=4k)", "DOMINO (D=0.5k, this work)"], "range": ["#9DC3E6", "#AEAAAA", {"expr": "{gradient:'linear',x1:0,y1:0,x2:0.9194,y2:1.0693,stops:s6}"}, "#92D050", "#FFF2CC"]},
         "legend": null,
         "condition": [
          {"test": "datum.method === 'RSC'", "value": "#ADC5BD"},
          {"test": "datum.method === 'AND-mask'", "value": "#BFBFBF"},
          {"test": "datum.method === 'BaselineHD (D=0.5k)'", "value": {"expr": "{gradient:'linear',x1:0,y1:0,x2:0.3286,y2:1.186,stops:s10}"}}]}
       }}
     ]},
     {"spacing": 4, "hconcat": [
      {"width": 16, "height": 10, "data": {"values": [{"k": 1}]}, "mark": {"type": "point", "opacity": 0}, "encoding": {}, "view": {"stroke": null}},
      {"width": 991, "height": 341,
       "layer": [
        {"data": {"name": "acc"}, "transform": [{"filter": "datum.ds === 'USCHAD' && datum.domain !== 'Average'"}],
         "mark": {"type": "bar", "stroke": "#000", "strokeWidth": 2},
         "encoding": {
          "x": {"field": "domain", "type": "nominal", "sort": ["Domain 1", "Domain 2", "Domain 3", "Domain 4", "Domain 5"], "scale": {"paddingInner": 0.26, "paddingOuter": 0.13}, "axis": {}},
          "xOffset": {"field": "method", "type": "nominal", "sort": ["RSC", "AND-mask", "BaselineHD (D=0.5k)", "BaselineHD (D*=4k)", "DOMINO (D=0.5k, this work)"], "scale": {"paddingInner": 0.22, "paddingOuter": 0}},
          "y": {"field": "acc", "type": "quantitative", "scale": {"domain": [45, 90], "zero": false, "nice": false}, "axis": {"values": [45, 60, 75, 90], "title": "Accuracy (%)", "labelPadding": 38, "titlePadding": 39, "titleY": 131, "grid": true, "gridColor": {"condition": {"test": "datum.value > 45 && datum.value < 90", "value": "#D9D9D9"}, "value": null}}},
          "y2": {"datum": 45},
          "fill": {"field": "method", "type": "nominal",
           "scale": {"domain": ["RSC", "AND-mask", "BaselineHD (D=0.5k)", "BaselineHD (D*=4k)", "DOMINO (D=0.5k, this work)"], "range": ["#9DC3E6", "#AEAAAA", {"expr": "{gradient:'linear',x1:0,y1:0,x2:0.9194,y2:1.0693,stops:s6}"}, "#92D050", "#FFF2CC"]},
           "legend": null,
           "condition": [
            {"test": "datum.method === 'RSC'", "value": "#ADC5BD"},
            {"test": "datum.method === 'AND-mask'", "value": "#BFBFBF"},
            {"test": "datum.method === 'BaselineHD (D=0.5k)' && datum.domain === 'Domain 1'", "value": {"expr": "{gradient:'linear',x1:0,y1:0,x2:0.8845,y2:1.0933,stops:s5}"}},
            {"test": "datum.method === 'BaselineHD (D=0.5k)' && datum.domain === 'Domain 2'", "value": {"expr": "{gradient:'linear',x1:0,y1:0,x2:0.7258,y2:1.17,stops:s6}"}},
            {"test": "datum.method === 'BaselineHD (D=0.5k)' && datum.domain === 'Domain 3'", "value": {"expr": "{gradient:'linear',x1:0,y1:0,x2:1.1548,y2:0.7668,stops:s4}"}},
            {"test": "datum.method === 'BaselineHD (D=0.5k)' && datum.domain === 'Domain 4'", "value": {"expr": "{gradient:'linear',x1:0,y1:0,x2:0.8147,y2:1.1332,stops:s5}"}},
            {"test": "datum.method === 'BaselineHD (D=0.5k)' && datum.domain === 'Domain 5'", "value": {"expr": "{gradient:'linear',x1:0,y1:0,x2:1.0404,y2:0.9561,stops:s4}"}}
           ]}
         }},
        {"data": {"values": [{"ds": "USCHAD"}]}, "mark": {"type": "rect", "fill": "#D9D9D9", "cornerRadius": 12},
         "encoding": {"x": {"datum": 0.0091, "type": "quantitative", "scale": {"domain": [0, 1]}, "axis": null}, "x2": {"datum": 0.2371}, "y": {"datum": 87.1, "type": "quantitative"}, "y2": {"datum": 77.07}}},
        {"data": {"values": [{"ds": "USCHAD"}]}, "mark": {"type": "text", "fontSize": 42, "fontWeight": "bold", "fontStyle": "italic", "align": "center", "baseline": "middle", "fill": "#000"},
         "encoding": {"x": {"datum": 0.1231, "type": "quantitative", "scale": {"domain": [0, 1]}, "axis": null}, "y": {"datum": 82.08, "type": "quantitative"}, "text": {"field": "ds"}}}
       ],
       "resolve": {"scale": {"x": "independent"}}},
      {"width": 188, "height": 341, "data": {"name": "acc"}, "transform": [{"filter": "datum.ds === 'USCHAD' && datum.domain === 'Average'"}],
       "mark": {"type": "bar", "stroke": "#000", "strokeWidth": 2},
       "encoding": {
        "x": {"field": "domain", "type": "nominal", "scale": {"paddingInner": 0.26, "paddingOuter": 0.13}, "axis": {}},
        "xOffset": {"field": "method", "type": "nominal", "sort": ["RSC", "AND-mask", "BaselineHD (D=0.5k)", "BaselineHD (D*=4k)", "DOMINO (D=0.5k, this work)"], "scale": {"paddingInner": 0.22, "paddingOuter": 0}},
        "y": {"field": "acc", "type": "quantitative", "scale": {"domain": [40, 80], "zero": false, "nice": false}, "axis": {"values": [40, 60, 80], "title": null, "labels": false, "grid": true, "gridColor": {"condition": {"test": "datum.value > 40 && datum.value < 80", "value": "#D9D9D9"}, "value": null}}},
        "y2": {"datum": 40},
        "fill": {"field": "method", "type": "nominal",
         "scale": {"domain": ["RSC", "AND-mask", "BaselineHD (D=0.5k)", "BaselineHD (D*=4k)", "DOMINO (D=0.5k, this work)"], "range": ["#9DC3E6", "#AEAAAA", {"expr": "{gradient:'linear',x1:0,y1:0,x2:0.9194,y2:1.0693,stops:s6}"}, "#92D050", "#FFF2CC"]},
         "legend": null,
         "condition": [
          {"test": "datum.method === 'RSC'", "value": "#ADC5BD"},
          {"test": "datum.method === 'AND-mask'", "value": "#BFBFBF"},
          {"test": "datum.method === 'BaselineHD (D=0.5k)'", "value": {"expr": "{gradient:'linear',x1:0,y1:0,x2:0.2657,y2:1.167,stops:s11}"}}]}
       }}
     ]}
    ]},
   {"spacing": 10, "hconcat": [
    {"width": 12, "height": 10, "data": {"values": [{"k": 1}]}, "mark": {"type": "point", "opacity": 0}, "encoding": {}, "view": {"stroke": null}},
    {"width": 988, "height": 340,
     "layer": [
      {"data": {"name": "acc"}, "transform": [{"filter": "datum.ds === 'PAMAP2' && datum.domain !== 'Average'"}],
       "mark": {"type": "bar", "stroke": "#000", "strokeWidth": 2},
       "encoding": {
        "x": {"field": "domain", "type": "nominal", "sort": ["Domain 1", "Domain 2", "Domain 3", "Domain 4"], "scale": {"paddingInner": 0.26, "paddingOuter": 0.13}, "axis": {}},
        "xOffset": {"field": "method", "type": "nominal", "sort": ["RSC", "AND-mask", "BaselineHD (D=0.5k)", "BaselineHD (D*=4k)", "DOMINO (D=0.5k, this work)"], "scale": {"paddingInner": 0.22, "paddingOuter": 0}},
        "y": {"field": "acc", "type": "quantitative", "scale": {"domain": [45, 90], "zero": false, "nice": false}, "axis": {"values": [45, 60, 75, 90], "title": "Accuracy (%)", "labelPadding": 38, "titlePadding": 38, "titleY": 163.5, "grid": true, "gridColor": {"condition": {"test": "datum.value > 45 && datum.value < 90", "value": "#D9D9D9"}, "value": null}}},
        "y2": {"datum": 45},
        "fill": {"field": "method", "type": "nominal",
         "scale": {"domain": ["RSC", "AND-mask", "BaselineHD (D=0.5k)", "BaselineHD (D*=4k)", "DOMINO (D=0.5k, this work)"], "range": ["#9DC3E6", "#AEAAAA", {"expr": "{gradient:'linear',x1:0,y1:0,x2:0.9194,y2:1.0693,stops:s6}"}, "#92D050", "#FFF2CC"]},
         "legend": null,
         "condition": [
          {"test": "datum.method === 'RSC'", "value": "#ADC5BD"},
          {"test": "datum.method === 'AND-mask'", "value": "#BFBFBF"},
          {"test": "datum.method === 'BaselineHD (D=0.5k)' && datum.domain === 'Domain 1'", "value": {"expr": "{gradient:'linear',x1:0,y1:0,x2:1.207,y2:0.4896,stops:s4}"}},
          {"test": "datum.method === 'BaselineHD (D=0.5k)' && datum.domain === 'Domain 2'", "value": {"expr": "{gradient:'linear',x1:0,y1:0,x2:0.148,y2:1.1134,stops:s23}"}},
          {"test": "datum.method === 'BaselineHD (D=0.5k)' && datum.domain === 'Domain 3'", "value": {"expr": "{gradient:'linear',x1:0,y1:0,x2:0.1824,y2:1.1318,stops:s20}"}},
          {"test": "datum.method === 'BaselineHD (D=0.5k)' && datum.domain === 'Domain 4'", "value": {"expr": "{gradient:'linear',x1:0,y1:0,x2:0.2751,y2:1.1703,stops:s14}"}}
         ]}
       }},
      {"data": {"values": [{"ds": "PAMAP2"}]}, "mark": {"type": "rect", "fill": "#D9D9D9", "cornerRadius": 12},
       "encoding": {"x": {"datum": 0.0132, "type": "quantitative", "scale": {"domain": [0, 1]}, "axis": null}, "x2": {"datum": 0.2414}, "y": {"datum": 86.42, "type": "quantitative"}, "y2": {"datum": 76.37}}},
      {"data": {"values": [{"ds": "PAMAP2"}]}, "mark": {"type": "text", "fontSize": 42, "fontWeight": "bold", "fontStyle": "italic", "align": "center", "baseline": "middle", "fill": "#000"},
       "encoding": {"x": {"datum": 0.1272, "type": "quantitative", "scale": {"domain": [0, 1]}, "axis": null}, "y": {"datum": 81.4, "type": "quantitative"}, "text": {"field": "ds"}}}
     ],
     "resolve": {"scale": {"x": "independent"}}},
    {"width": 200, "height": 340, "data": {"name": "acc"}, "transform": [{"filter": "datum.ds === 'PAMAP2' && datum.domain === 'Average'"}],
     "mark": {"type": "bar", "stroke": "#000", "strokeWidth": 2},
     "encoding": {
      "x": {"field": "domain", "type": "nominal", "scale": {"paddingInner": 0.26, "paddingOuter": 0.13}, "axis": {}},
      "xOffset": {"field": "method", "type": "nominal", "sort": ["RSC", "AND-mask", "BaselineHD (D=0.5k)", "BaselineHD (D*=4k)", "DOMINO (D=0.5k, this work)"], "scale": {"paddingInner": 0.22, "paddingOuter": 0}},
      "y": {"field": "acc", "type": "quantitative", "scale": {"domain": [45, 90], "zero": false, "nice": false}, "axis": {"values": [45, 60, 75, 90], "title": null, "labels": false, "grid": true, "gridColor": {"condition": {"test": "datum.value > 45 && datum.value < 90", "value": "#D9D9D9"}, "value": null}}},
      "y2": {"datum": 45},
      "fill": {"field": "method", "type": "nominal",
       "scale": {"domain": ["RSC", "AND-mask", "BaselineHD (D=0.5k)", "BaselineHD (D*=4k)", "DOMINO (D=0.5k, this work)"], "range": ["#9DC3E6", "#AEAAAA", {"expr": "{gradient:'linear',x1:0,y1:0,x2:0.9194,y2:1.0693,stops:s6}"}, "#92D050", "#FFF2CC"]},
       "legend": null,
       "condition": [
        {"test": "datum.method === 'RSC'", "value": "#ADC5BD"},
        {"test": "datum.method === 'AND-mask'", "value": "#BFBFBF"},
        {"test": "datum.method === 'BaselineHD (D=0.5k)'", "value": {"expr": "{gradient:'linear',x1:0,y1:0,x2:0.2117,y2:1.1457,stops:s14}"}}]}
     }}
   ]}
  ]}
]
}
